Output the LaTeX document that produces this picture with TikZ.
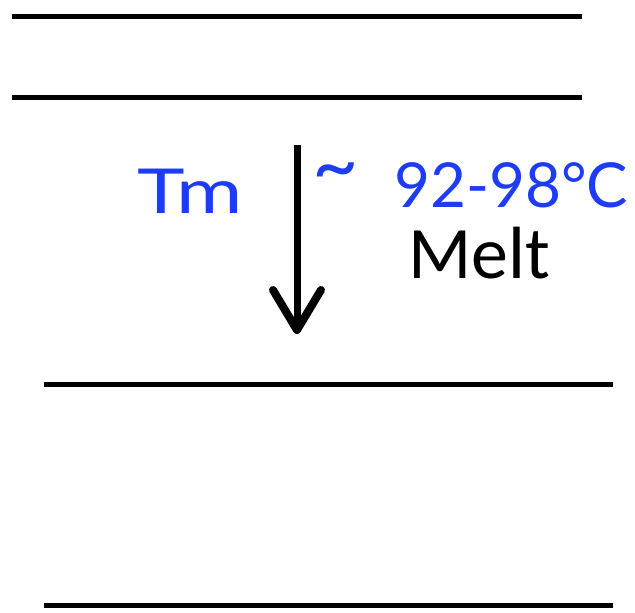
\documentclass[tikz,border=0pt]{standalone}
\usepackage{fontspec}
\setmainfont{Carlito}
\newfontfamily\handfont{Lato}
\usetikzlibrary{arrows.meta}
\definecolor{penblue}{RGB}{30,60,245}
\tikzset{
  level/.style={line width=5pt, black},
  melt/.style={line width=7pt, black, -{Straight Barb[length=40pt,width=48pt,round,line width=8pt]}},
  hand/.style={text=penblue, font=\handfont\fontsize{62}{62}\selectfont, inner sep=0pt, anchor=base west},
  label/.style={text=black, font=\fontsize{74}{74}\selectfont, inner sep=0pt, anchor=base west}
}
\begin{document}
\begin{tikzpicture}[x=1pt,y=-1pt]
\useasboundingbox (0,0) rectangle (635,613);
% energy levels
\coordinate (l1a) at (12,16);  \coordinate (l1b) at (582,16);
\coordinate (l2a) at (12,97);  \coordinate (l2b) at (582,97);
\coordinate (l3a) at (44,384); \coordinate (l3b) at (613,384);
\coordinate (l4a) at (44,605); \coordinate (l4b) at (613,605);
\draw[level] (l1a) -- (l1b);
\draw[level] (l2a) -- (l2b);
\draw[level] (l3a) -- (l3b);
\draw[level] (l4a) -- (l4b);
% arrow
\coordinate (top) at (297,145);
\coordinate (tip) at (297,334);
\draw[melt] (top) -- (tip);
% texts
\node[hand, xscale=1.3] (tm) at (137,213) {Tm};
\node[hand, font=\handfont\fontsize{80}{80}\selectfont, anchor=west] (tilde) at (312,178) {\textasciitilde};
\node[hand] (temp) at (394,207) {92-98°C};
\node[label] (meltlbl) at (408,278) {Melt};
\end{tikzpicture}
\end{document}
